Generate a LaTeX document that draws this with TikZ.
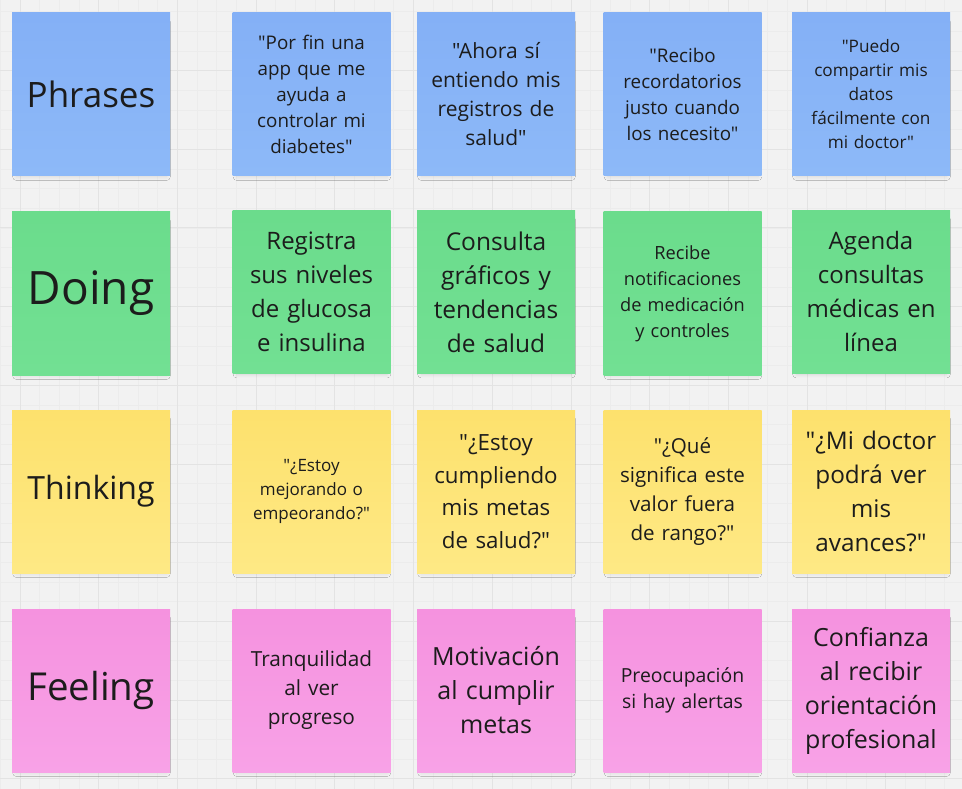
\documentclass[tikz,border=0pt]{standalone}
\usepackage{fontspec}
\setmainfont{Open Sans}[Ligatures=TeXOff]
\usetikzlibrary{shadows.blur}

\definecolor{board}{HTML}{F2F2F2}
\definecolor{gridminor}{HTML}{ECECEC}
\definecolor{gridmajor}{HTML}{E3E3E3}
\definecolor{ink}{HTML}{1C1C1C}
\definecolor{blueTop}{HTML}{84B0F6}
\definecolor{blueBot}{HTML}{8DB9F8}
\definecolor{greenTop}{HTML}{6BDC8C}
\definecolor{greenBot}{HTML}{72E093}
\definecolor{yellowTop}{HTML}{FDE16D}
\definecolor{yellowBot}{HTML}{FEE985}
\definecolor{pinkTop}{HTML}{F592DF}
\definecolor{pinkBot}{HTML}{F8A2E7}

\tikzset{
  sticky/.style={rectangle, minimum width=158pt, minimum height=163pt,
    inner sep=0pt, text width=156pt, align=center, text=ink,
    blur shadow={shadow xshift=0.5pt, shadow yshift=-5pt, shadow scale=0.95,
      shadow blur radius=4pt, shadow opacity=12}},
  bluenote/.style={sticky, top color=blueTop, bottom color=blueBot},
  greennote/.style={sticky, top color=greenTop, bottom color=greenBot},
  yellownote/.style={sticky, top color=yellowTop, bottom color=yellowBot},
  pinknote/.style={sticky, top color=pinkTop, bottom color=pinkBot},
  txt/.style args={#1/#2}{font=\fontsize{#1}{#2}\selectfont}
}

\begin{document}
\begin{tikzpicture}[x=1pt,y=-1pt]
  % board with its grid
  \fill[board] (0,0) rectangle (962,789);
  \begin{scope}
    \clip (0,0) rectangle (962,789);
    \foreach \i in {-1,...,49} {
      \draw[gridminor, line width=0.5pt] ({0.33+19.67*\i},0) -- ({0.33+19.67*\i},789);
      \draw[gridminor, line width=0.5pt] (0,{11.5+19.67*\i}) -- (962,{11.5+19.67*\i});
    }
    \foreach \i in {-1,...,12} {
      \draw[gridmajor, line width=0.8pt] ({20+78.7*\i},0) -- ({20+78.7*\i},789);
      \draw[gridmajor, line width=0.8pt] (0,{70.5+78.7*\i}) -- (962,{70.5+78.7*\i});
    }
  \end{scope}
  \useasboundingbox (0,0) rectangle (962,789);

  % Phrases row
  \node[bluenote, txt=35/42] (phr) at (91,94.5) {Phrases};
  \node[bluenote, txt=18.8/26] (phr1) at (311.5,94.5) {"Por fin una\\app que me\\ayuda a\\controlar mi\\diabetes"};
  \node[bluenote, txt=21/29] (phr2) at (496,94.5) {"Ahora sí\\entiendo mis\\registros de\\salud"};
  \node[bluenote, txt=18.8/26] (phr3) at (682.5,94.5) {"Recibo\\recordatorios\\justo cuando\\los necesito"};
  \node[bluenote, txt=17.2/24] (phr4) at (871,94.5) {"Puedo\\compartir mis\\datos\\fácilmente con\\mi doctor"};

  % Doing row
  \node[greennote, txt=46/52] (doi) at (91,293.5) {Doing};
  \node[greennote, txt=24/34] (doi1) at (311.5,292) {Registra\\sus niveles\\de glucosa\\e insulina};
  \node[greennote, txt=24.5/34] (doi2) at (496,292) {Consulta\\gráficos y\\tendencias\\de salud};
  \node[greennote, txt=18.2/26] (doi3) at (682.5,293.5) {Recibe\\notificaciones\\de medicación\\y controles};
  \node[greennote, txt=24/34] (doi4) at (871,292) {Agenda\\consultas\\médicas en\\línea};

  % Thinking row
  \node[yellownote, txt=32/40] (thi) at (91,491.5) {Thinking};
  \node[yellownote, txt=17/24] (thi1) at (311.5,491.5) {"¿Estoy\\mejorando o\\empeorando?"};
  \node[yellownote, txt=22.3/32.5] (thi2) at (496,491.5) {"¿Estoy\\cumpliendo\\mis metas\\de salud?"};
  \node[yellownote, txt=20.6/29] (thi3) at (682.5,491.5) {"¿Qué\\significa este\\valor fuera\\de rango?"};
  \node[yellownote, txt=24.3/34] (thi4) at (871,491.5) {"¿Mi doctor\\podrá ver\\mis\\avances?"};

  % Feeling row
  \node[pinknote, txt=38.5/46] (fee) at (91,690.5) {Feeling};
  \node[pinknote, txt=20.8/29] (fee1) at (311.5,690.5) {Tranquilidad\\al ver\\progreso};
  \node[pinknote, txt=25/34] (fee2) at (496,690.5) {Motivación\\al cumplir\\metas};
  \node[pinknote, txt=19.4/26] (fee3) at (682.5,690.5) {Preocupación\\si hay alertas};
  \node[pinknote, txt=25/34] (fee4) at (871,690.5) {Confianza\\al recibir\\orientación\\profesional};
\end{tikzpicture}
\end{document}
